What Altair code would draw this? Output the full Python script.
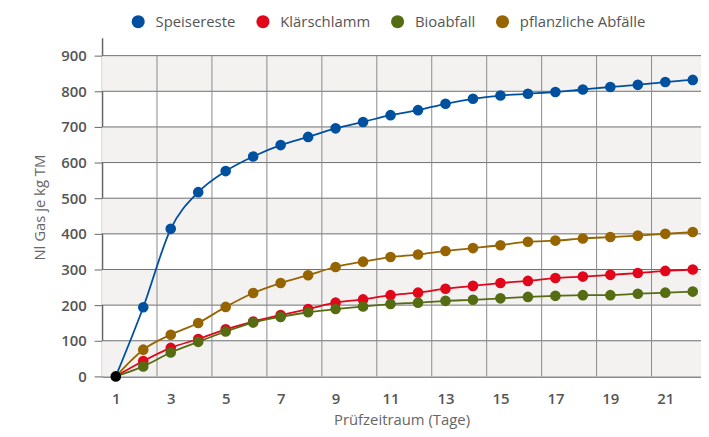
import altair as alt
import pandas as pd

days = list(range(1, 23))
speisereste = [0, 194, 414, 517, 576, 617, 649, 672, 696, 714, 733, 747, 765, 779, 788, 793, 798, 805, 812, 818, 826, 832]
klaerschlamm = [0, 43, 80, 105, 132, 154, 172, 189, 207, 216, 228, 235, 246, 254, 262, 268, 276, 280, 285, 290, 296, 300]
bioabfall = [0, 28, 67, 97, 126, 151, 167, 180, 189, 196, 203, 207, 212, 215, 219, 223, 226, 228, 228, 232, 235, 238]
pflanzlich = [0, 75, 117, 150, 195, 234, 262, 284, 307, 322, 335, 342, 352, 360, 368, 378, 381, 387, 391, 395, 400, 405]

series_names = ["Speisereste", "Klärschlamm", "Bioabfall", "pflanzliche Abfälle"]
series_colors = ["#0050a0", "#e2061b", "#566c12", "#966400"]
x_labels = [1, 3, 5, 7, 9, 11, 13, 15, 17, 19, 21]
y_labels = [0, 100, 200, 300, 400, 500, 600, 700, 800, 900]
band_lo = [0, 200, 400, 600, 800]
band_hi = [100, 300, 500, 700, 900]
hgrid = [100, 200, 300, 400, 500, 600, 700, 800, 900]
vgrid = [2.5, 4.5, 6.5, 8.5, 10.5, 12.5, 14.5, 16.5, 18.5, 20.5]

rows = []
for name, vals in zip(series_names, [speisereste, klaerschlamm, bioabfall, pflanzlich]):
    for d, v in zip(days, vals):
        rows.append({"Tag": d, "Wert": v, "Serie": name, "Linie": name})
df = pd.DataFrame(rows)
df_pts = df[df["Tag"] > 1]
df_origin = pd.DataFrame({"Tag": [days[0]], "Wert": [speisereste[0]]})
df_bands = pd.DataFrame({"lo": band_lo, "hi": band_hi})
df_h = pd.DataFrame({"Wert": hgrid})
df_v = pd.DataFrame({"Tag": vgrid, "lo": [0] * 10, "hi": [900] * 10})

FONT = "Open Sans"
xscale = alt.Scale(domain=[0.5, 22.3], nice=False, zero=False)
yscale = alt.Scale(domain=[0, 950], nice=False)
W, H = 605, 342

xaxis = alt.Axis(
    values=x_labels,
    grid=False,
    ticks=False,
    title="Prüfzeitraum (Tage)",
    labelPadding=15,
    titlePadding=7,
)
yaxis = alt.Axis(
    values=y_labels,
    grid=False,
    tickSize=8,
    title="Nl Gas je kg TM",
    labelPadding=8,
    titlePadding=13,
)

bands = alt.Chart(df_bands).mark_rect(color="#f3f2f1").encode(
    y=alt.Y("lo:Q", scale=yscale, axis=yaxis),
    y2="hi:Q",
    x=alt.value(0),
    x2=alt.value(W),
)

hrules = alt.Chart(df_h).mark_rule(color="#6e6e6e", strokeWidth=1).encode(
    y=alt.Y("Wert:Q", scale=yscale, axis=yaxis),
    x=alt.value(0),
    x2=alt.value(W),
)

vrules = alt.Chart(df_v).mark_rule(color="#8a8a8a", strokeWidth=1).encode(
    x=alt.X("Tag:Q", scale=xscale, axis=xaxis),
    y=alt.Y("lo:Q", scale=yscale, axis=yaxis),
    y2="hi:Q",
)

lines = alt.Chart(df).mark_line(strokeWidth=1.8, interpolate="monotone").encode(
    x=alt.X("Tag:Q", scale=xscale, axis=xaxis),
    y=alt.Y("Wert:Q", scale=yscale, axis=yaxis),
    stroke=alt.Stroke(
        "Linie:N",
        scale=alt.Scale(domain=series_names, range=series_colors),
        legend=None,
    ),
    detail="Linie:N",
)

points = alt.Chart(df_pts).mark_circle(size=115, opacity=1).encode(
    x=alt.X("Tag:Q", scale=xscale, axis=xaxis),
    y=alt.Y("Wert:Q", scale=yscale, axis=yaxis),
    color=alt.Color(
        "Serie:N",
        scale=alt.Scale(domain=series_names, range=series_colors),
        legend=alt.Legend(
            title=None,
            orient="none",
            direction="horizontal",
            legendX=29,
            legendY=-24,
            symbolType="circle",
            symbolSize=175,
            symbolStrokeWidth=0,
            symbolOpacity=1,
            labelFont=FONT,
            labelFontSize=15,
            labelColor="#555555",
            labelOffset=10,
            columnPadding=20,
        ),
    ),
)

origin = alt.Chart(df_origin).mark_circle(size=115, color="#000000", opacity=1).encode(
    x=alt.X("Tag:Q", scale=xscale, axis=xaxis),
    y=alt.Y("Wert:Q", scale=yscale, axis=yaxis),
)

chart = alt.layer(bands, hrules, vrules, lines, points, origin).properties(
    width=W,
    height=H,
    autosize=alt.AutoSizeParams(type="none"),
    padding={"left": 95, "top": 28, "right": 0, "bottom": 51},
).resolve_scale(
    color="independent", stroke="independent"
).configure_view(stroke=None).configure_axis(
    labelFont=FONT,
    labelFontSize=15,
    labelFontWeight=600,
    labelColor="#555555",
    titleFont=FONT,
    titleFontSize=15,
    titleFontWeight="normal",
    titleColor="#666666",
    domainColor="#666666",
    domainWidth=1.5,
    tickColor="#666666",
    tickWidth=1,
)

chart.save("out.html", embed_options={"renderer": "svg", "actions": False})
